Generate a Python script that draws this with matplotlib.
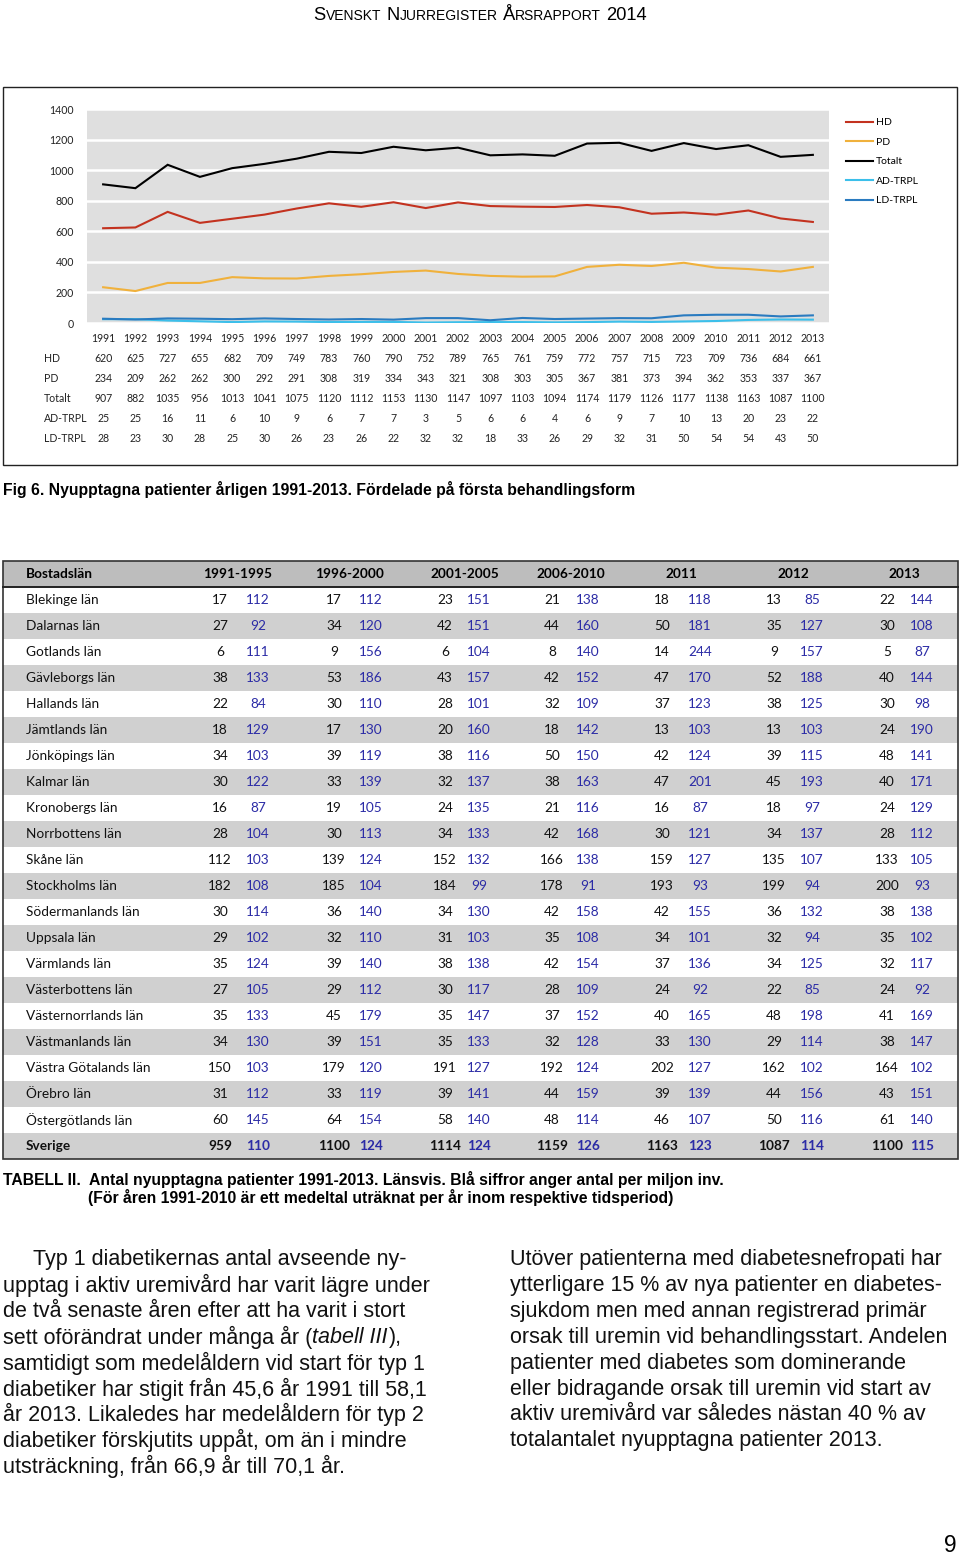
import matplotlib
matplotlib.use("Agg")
import matplotlib.pyplot as plt
from matplotlib.patches import Rectangle
from matplotlib.lines import Line2D

# --- chart data (Fig 6) ---
years = [str(y) for y in range(1991, 2014)]
hd = [620, 625, 727, 655, 682, 709, 749, 783, 760, 790, 752, 789, 765, 761, 759, 772, 757, 715, 723, 709, 736, 684, 661]
pd_ = [234, 209, 262, 262, 300, 292, 291, 308, 319, 334, 343, 321, 308, 303, 305, 367, 381, 373, 394, 362, 353, 337, 367]
totalt = [907, 882, 1035, 956, 1013, 1041, 1075, 1120, 1112, 1153, 1130, 1147, 1097, 1103, 1094, 1174, 1179, 1126, 1177, 1138, 1163, 1087, 1100]
ad_trpl = [25, 25, 16, 11, 6, 10, 9, 6, 7, 7, 3, 5, 6, 6, 4, 6, 9, 7, 10, 13, 20, 23, 22]
ld_trpl = [28, 23, 30, 28, 25, 30, 26, 23, 26, 22, 32, 32, 18, 33, 26, 29, 32, 31, 50, 54, 54, 43, 50]

# --- table data (Tabell II) ---
periods = ["1991-1995", "1996-2000", "2001-2005", "2006-2010", "2011", "2012", "2013"]
counties = ["Blekinge län", "Dalarnas län", "Gotlands län", "Gävleborgs län", "Hallands län",
            "Jämtlands län", "Jönköpings län", "Kalmar län", "Kronobergs län", "Norrbottens län",
            "Skåne län", "Stockholms län", "Södermanlands län", "Uppsala län", "Värmlands län",
            "Västerbottens län", "Västernorrlands län", "Västmanlands län", "Västra Götalands län",
            "Örebro län", "Östergötlands län", "Sverige"]
counts = [
    [17, 17, 23, 21, 18, 13, 22],
    [27, 34, 42, 44, 50, 35, 30],
    [6, 9, 6, 8, 14, 9, 5],
    [38, 53, 43, 42, 47, 52, 40],
    [22, 30, 28, 32, 37, 38, 30],
    [18, 17, 20, 18, 13, 13, 24],
    [34, 39, 38, 50, 42, 39, 48],
    [30, 33, 32, 38, 47, 45, 40],
    [16, 19, 24, 21, 16, 18, 24],
    [28, 30, 34, 42, 30, 34, 28],
    [112, 139, 152, 166, 159, 135, 133],
    [182, 185, 184, 178, 193, 199, 200],
    [30, 36, 34, 42, 42, 36, 38],
    [29, 32, 31, 35, 34, 32, 35],
    [35, 39, 38, 42, 37, 34, 32],
    [27, 29, 30, 28, 24, 22, 24],
    [35, 45, 35, 37, 40, 48, 41],
    [34, 39, 35, 32, 33, 29, 38],
    [150, 179, 191, 192, 202, 162, 164],
    [31, 33, 39, 44, 39, 44, 43],
    [60, 64, 58, 48, 46, 50, 61],
    [959, 1100, 1114, 1159, 1163, 1087, 1100],
]
per_million = [
    [112, 112, 151, 138, 118, 85, 144],
    [92, 120, 151, 160, 181, 127, 108],
    [111, 156, 104, 140, 244, 157, 87],
    [133, 186, 157, 152, 170, 188, 144],
    [84, 110, 101, 109, 123, 125, 98],
    [129, 130, 160, 142, 103, 103, 190],
    [103, 119, 116, 150, 124, 115, 141],
    [122, 139, 137, 163, 201, 193, 171],
    [87, 105, 135, 116, 87, 97, 129],
    [104, 113, 133, 168, 121, 137, 112],
    [103, 124, 132, 138, 127, 107, 105],
    [108, 104, 99, 91, 93, 94, 93],
    [114, 140, 130, 158, 155, 132, 138],
    [102, 110, 103, 108, 101, 94, 102],
    [124, 140, 138, 154, 136, 125, 117],
    [105, 112, 117, 109, 92, 85, 92],
    [133, 179, 147, 152, 165, 198, 169],
    [130, 151, 133, 128, 130, 114, 147],
    [103, 120, 127, 124, 127, 102, 102],
    [112, 119, 141, 159, 139, 156, 151],
    [145, 154, 140, 114, 107, 116, 140],
    [110, 124, 124, 126, 123, 114, 115],
]

left_text = [
    "Typ 1 diabetikernas antal avseende ny-",
    "upptag i aktiv uremivård har varit lägre under",
    "de två senaste åren efter att ha varit i stort",
    "sett oförändrat under många år (|tabell III|),",
    "samtidigt som medelåldern vid start för typ 1",
    "diabetiker har stigit från 45,6 år 1991 till 58,1",
    "år 2013. Likaledes har medelåldern för typ 2",
    "diabetiker förskjutits uppåt, om än i mindre",
    "utsträckning, från 66,9 år till 70,1 år.",
]
right_text = [
    "Utöver patienterna med diabetesnefropati har",
    "ytterligare 15 % av nya patienter en diabetes-",
    "sjukdom men med annan registrerad primär",
    "orsak till uremin vid behandlingsstart. Andelen",
    "patienter med diabetes som dominerande",
    "eller bidragande orsak till uremin vid start av",
    "aktiv uremivård var således nästan 40 % av",
    "totalantalet nyupptagna patienter 2013.",
]

W, H = 960, 1556
fig = plt.figure(figsize=(W / 100, H / 100), dpi=100)
rend = fig.canvas.get_renderer()

SANS = ["Liberation Sans Narrow", "Liberation Sans"]
CAL = ["Lato", "DejaVu Sans"]
BLUE_TXT = "#2b2ba6"


def fx(x):
    return x / W


def fy(y):
    return 1 - y / H


def put(x, y, s, **kw):
    kw.setdefault("va", "center")
    return fig.text(fx(x), fy(y), s, **kw)


def width(s, **kw):
    t = fig.text(0, 0, s, **kw)
    w = t.get_window_extent(rend).width
    t.remove()
    return w


def fit(s, target, **kw):
    return 10 * target / width(s, fontsize=10, **kw)


# ---------------- page header (small caps) ----------------
big, small = 13.2, 10.0
hdr = [("S", big), ("VENSKT", small), (" ", big), ("N", big), ("JURREGISTER", small), (" ", big),
       ("Å", big), ("RSRAPPORT", small), (" ", big), ("2014", big)]
sp = width("a a", family=SANS, fontsize=big) - width("aa", family=SANS, fontsize=big)
tot = sum(sp if s == " " else width(s, family=SANS, fontsize=z) for s, z in hdr)
x = 480 - tot / 2
for s, z in hdr:
    if s == " ":
        x += sp
        continue
    put(x, 20, s, family=SANS, fontsize=z, ha="left", va="baseline")
    x += width(s, family=SANS, fontsize=z)

# ---------------- Fig 6 chart ----------------
fig.patches.append(Rectangle((fx(3), fy(465)), (957 - 3) / W, (465 - 87) / H,
                             transform=fig.transFigure, fill=False, lw=1.0, ec="#222222"))

top, bot = 109, 323
ax = fig.add_axes([fx(87), fy(bot), (829 - 87) / W, (bot - top) / H])
ax.set_facecolor("#dfdfdf")
xs = range(len(years))
series = [("HD", hd, "#c3321f"), ("PD", pd_, "#f0b13c"), ("Totalt", totalt, "#000000"),
          ("AD-TRPL", ad_trpl, "#3cbfea"), ("LD-TRPL", ld_trpl, "#2a7bc0")]
for name, vals, col in series:
    ax.plot(xs, vals, color=col, lw=1.5, label=name, solid_joinstyle="miter")
ax.set_xlim(-0.5, len(years) - 0.5)
ax.set_ylim(0, 1400)
ax.set_yticks(range(0, 1401, 200))
ax.set_xticks(list(xs))
ax.set_xticklabels(years)
ax.yaxis.grid(True, color="white", lw=1.8)
ax.set_axisbelow(True)
for s in ax.spines.values():
    s.set_visible(False)
ax.tick_params(length=0, labelsize=7.6, labelcolor="#222222")
ax.tick_params(axis="y", pad=9.5)
ax.tick_params(axis="x", pad=7)
for lab in ax.get_xticklabels() + ax.get_yticklabels():
    lab.set_family(CAL)

row_y = [359, 379, 399, 419, 438]
for (name, vals, col), ry in zip(series, row_y):
    put(44, ry, name, family=CAL, fontsize=7.6, ha="left", color="#222222")
    for i, v in enumerate(vals):
        ax.text(i, (bot - ry) / (bot - top), str(v), transform=ax.get_xaxis_transform(),
                ha="center", va="center", family=CAL, fontsize=7.6, color="#222222")

handles = [Line2D([], [], color=c, lw=1.5) for _, _, c in series]
fig.legend(handles, [n for n, _, _ in series], loc="upper left",
           bbox_to_anchor=(fx(846), fy(118)), frameon=False, prop={"family": CAL, "size": 7.5},
           handlelength=2.6, handletextpad=0.3, labelspacing=0.98, borderpad=0, borderaxespad=0)

cap6 = "Fig 6. Nyupptagna patienter årligen 1991-2013. Fördelade på första behandlingsform"
put(3, 490, cap6, family=SANS, weight="bold", ha="left",
    fontsize=fit(cap6, 633, family=SANS, weight="bold"))

# ---------------- Tabell II ----------------
t_top, hdr_h, row_h = 561, 26, 26
t_left, t_right = 3, 958
fig.patches.append(Rectangle((fx(t_left), fy(t_top + hdr_h)), (t_right - t_left) / W, hdr_h / H,
                             transform=fig.transFigure, fc="#bdbdbd", ec="none"))
for i in range(len(counties)):
    if i % 2 == 1:
        y0 = t_top + hdr_h + (i + 1) * row_h
        fig.patches.append(Rectangle((fx(t_left), fy(y0)), (t_right - t_left) / W, row_h / H,
                                     transform=fig.transFigure, fc="#d0d0d0", ec="none"))
y_end = t_top + hdr_h + len(counties) * row_h
fig.lines.append(Line2D([fx(t_left), fx(t_right)], [fy(t_top + hdr_h)] * 2,
                        transform=fig.transFigure, color="#222222", lw=1.4))
fig.patches.append(Rectangle((fx(t_left), fy(y_end)), (t_right - t_left) / W, (y_end - t_top) / H,
                             transform=fig.transFigure, fill=False, ec="#333333", lw=1.2))

cnt_x = [220, 334, 445, 552, 662, 774, 887]
pm_x = [258, 371, 479, 588, 700, 812, 922]
hdr_x = [238, 350, 465, 571, 681, 793, 904]
tfs = 9.8
put(26, t_top + 13, "Bostadslän", family=CAL, weight="bold", fontsize=tfs, ha="left")
for p, hx in zip(periods, hdr_x):
    put(hx, t_top + 13, p, family=CAL, weight="bold", fontsize=tfs, ha="center")
for i, name in enumerate(counties):
    ry = t_top + hdr_h + row_h * i + 13
    wt = "bold" if name == "Sverige" else "normal"
    put(26, ry, name, family=CAL, weight=wt, fontsize=tfs, ha="left", color="#111111")
    for j in range(len(periods)):
        put(cnt_x[j], ry, str(counts[i][j]), family=CAL, weight=wt, fontsize=tfs,
            ha="center", color="#111111")
        put(pm_x[j], ry, str(per_million[i][j]), family=CAL, weight=wt, fontsize=tfs,
            ha="center", color=BLUE_TXT)

capA = "TABELL II.  Antal nyupptagna patienter 1991-2013. Länsvis. Blå siffror anger antal per miljon inv."
capB = "(För åren 1991-2010 är ett medeltal uträknat per år inom respektive tidsperiod)"
cfs = fit(capA, 719, family=SANS, weight="bold")
put(3, 1179, capA, family=SANS, weight="bold", fontsize=cfs, ha="left")
put(88, 1198, capB, family=SANS, weight="bold", fontsize=cfs, ha="left")

# ---------------- body text ----------------
bfs = fit(left_text[1], 430, family=SANS)
for k, line in enumerate(left_text):
    ly = 1260 + k * 25.8
    x = 33 if k == 0 else 3
    parts = line.split("|")
    for m, part in enumerate(parts):
        st = "italic" if m % 2 == 1 else "normal"
        put(x, ly, part, family=SANS, style=st, fontsize=bfs, ha="left", color="#111111")
        x += width(part.rstrip(), family=SANS, style=st, fontsize=bfs) + (1 if m % 2 == 1 else 0)
for k, line in enumerate(right_text):
    put(510, 1260 + k * 25.8, line, family=SANS, fontsize=bfs, ha="left", color="#111111")

put(950, 1546, "9", family=SANS, fontsize=bfs * 1.05, ha="center")

fig.savefig("out.png", dpi=100)
